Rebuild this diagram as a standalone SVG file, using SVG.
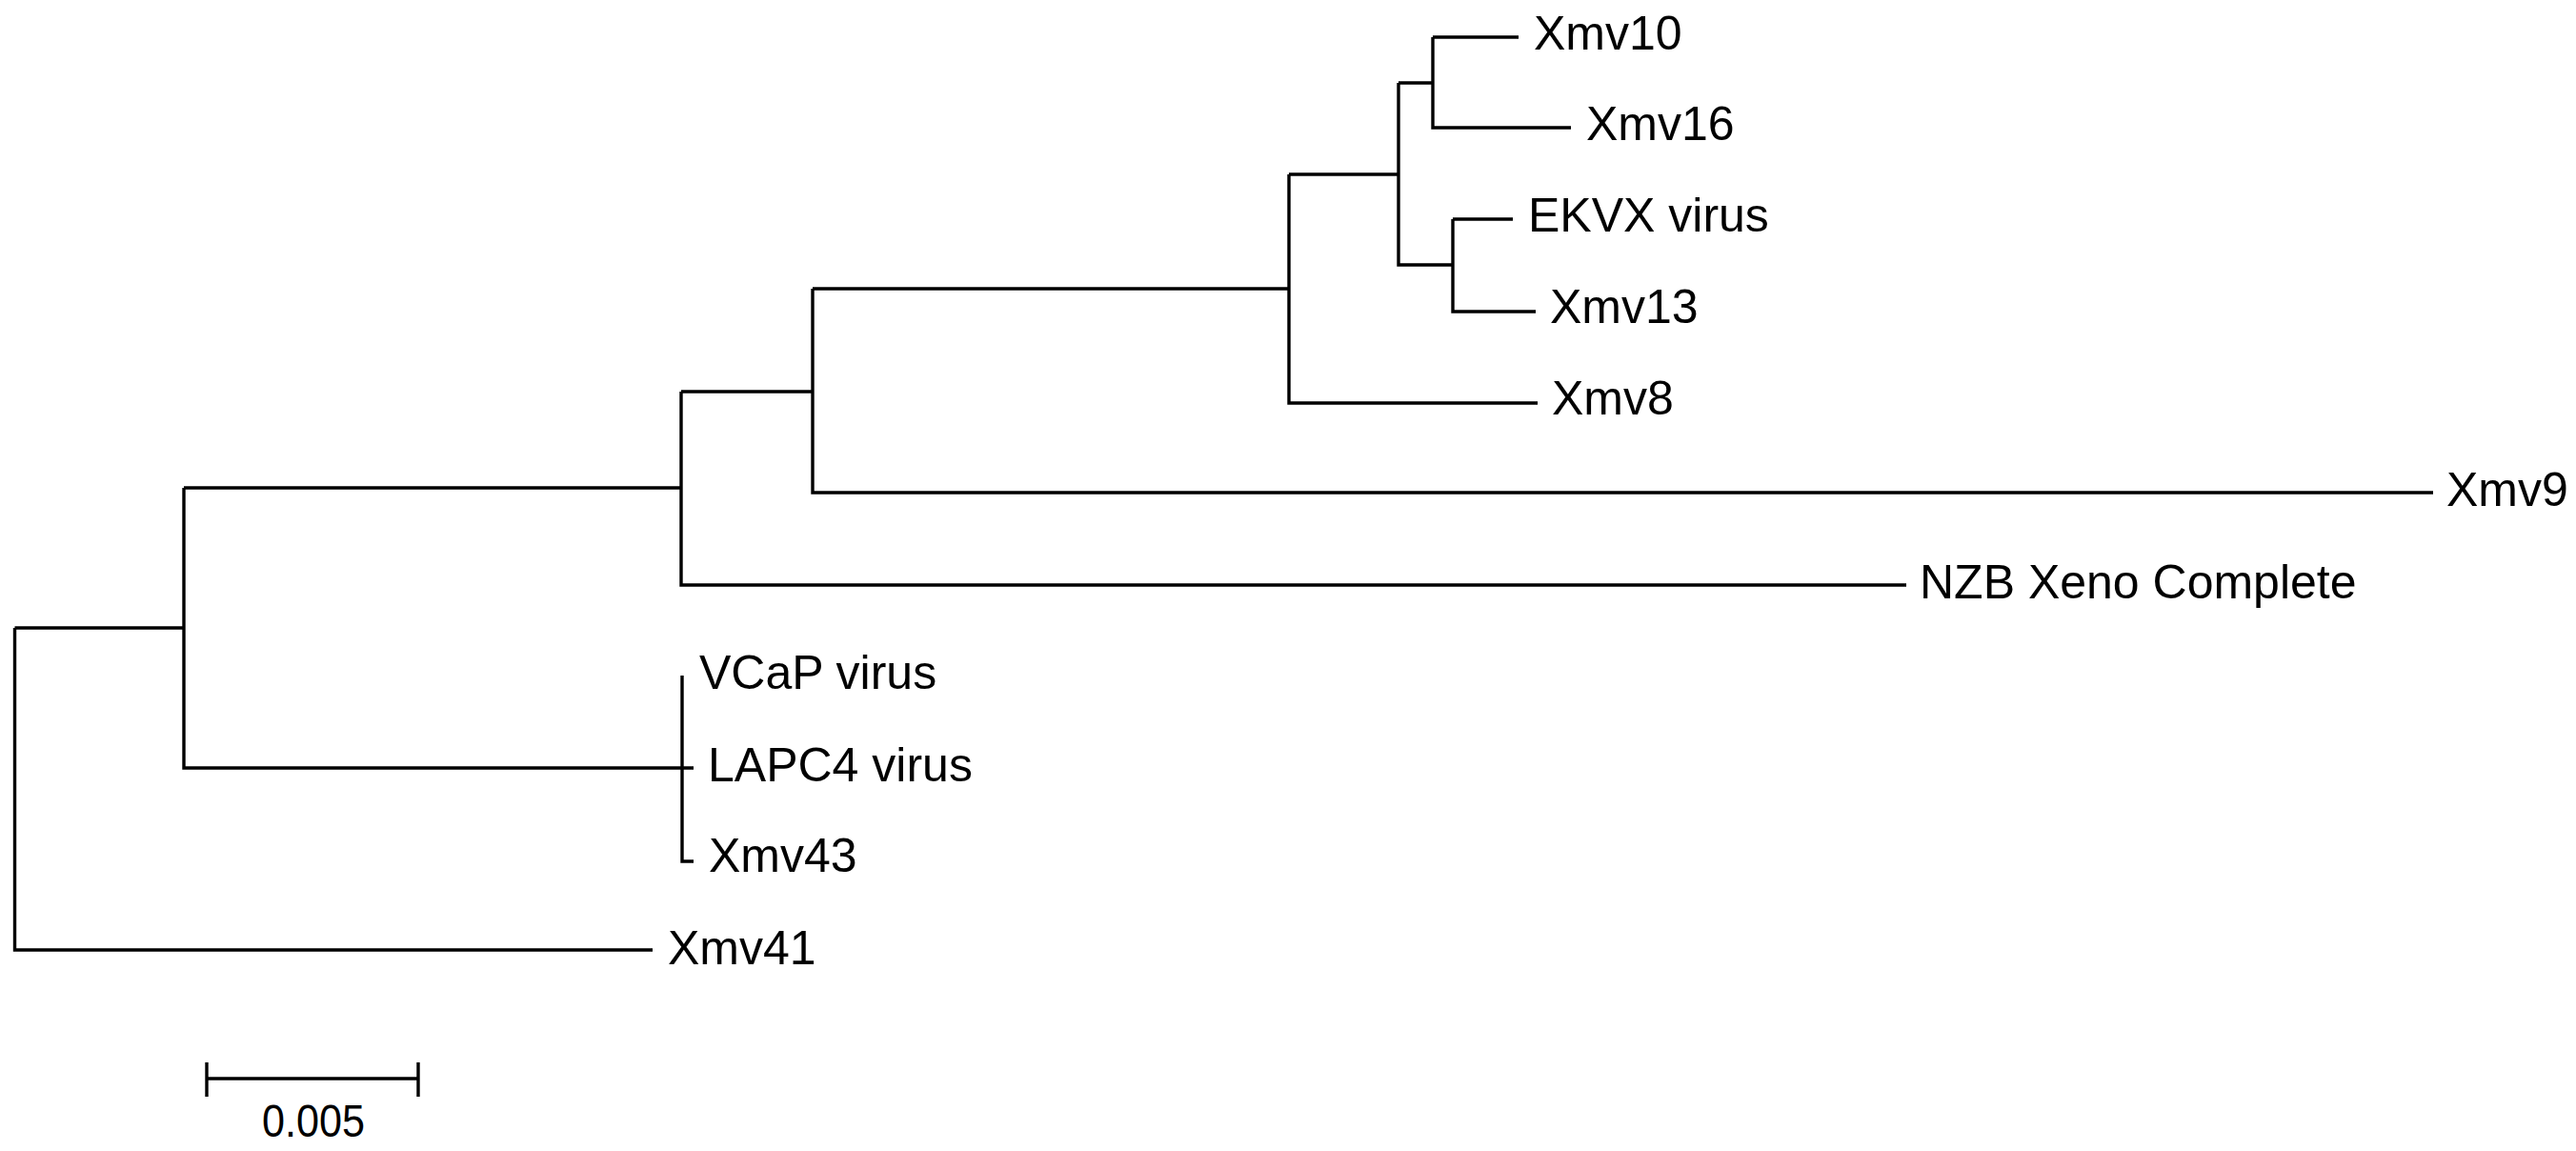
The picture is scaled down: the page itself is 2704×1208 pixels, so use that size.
<svg xmlns="http://www.w3.org/2000/svg" width="2704" height="1208" viewBox="0 0 2704 1208">
<style>
.br{fill:none;stroke:#000;stroke-width:3.4;stroke-linecap:butt;stroke-linejoin:miter}
.lb{font-family:"Liberation Sans",Arial,sans-serif;font-size:50px;fill:#000}
.sc{font-family:"Liberation Sans",Arial,sans-serif;font-size:48px;fill:#000}
</style>
<rect width="2704" height="1208" fill="#fff"/>
<g id="connectors" class="br">
<path d="M15.5,659 V997 H685"/>
<path d="M15.5,659 H193"/>
<path d="M193,512 V806 H728"/>
<path d="M193,512 H715"/>
<path d="M716,709 V904 H728"/>
<path d="M715,411 V614 H2001"/>
<path d="M715,411 H853"/>
<path d="M853,303 V517 H2554"/>
<path d="M853,303 H1353"/>
<path d="M1353,183 V423 H1614"/>
<path d="M1353,183 H1468"/>
<path d="M1468,87 V278 H1525"/>
<path d="M1468,87 H1504"/>
<path d="M1504,39 V134 H1649"/>
<path d="M1504,39 H1594"/>
<path d="M1525,230 V327 H1612"/>
<path d="M1525,230 H1588"/>
</g>
<g id="n-xmv10"><text class="lb" x="1610" y="52">Xmv10</text></g>
<g id="n-xmv16"><text class="lb" x="1665" y="147">Xmv16</text></g>
<g id="n-ekvx"><text class="lb" x="1604" y="243">EKVX virus</text></g>
<g id="n-xmv13"><text class="lb" x="1627" y="339">Xmv13</text></g>
<g id="n-xmv8"><text class="lb" x="1629" y="435">Xmv8</text></g>
<g id="n-xmv9"><text class="lb" x="2568" y="531">Xmv9</text></g>
<g id="n-nzb"><text class="lb" x="2015" y="628">NZB Xeno Complete</text></g>
<g id="n-vcap"><text class="lb" x="734" y="723">VCaP virus</text></g>
<g id="n-lapc4"><text class="lb" x="743" y="820">LAPC4 virus</text></g>
<g id="n-xmv43"><text class="lb" x="744" y="915">Xmv43</text></g>
<g id="n-xmv41"><text class="lb" x="701" y="1012">Xmv41</text></g>
<g id="scale-bar">
<path class="br" d="M217,1132 H439 M217,1115 V1151 M439,1115 V1151"/>
<text class="sc" x="275" y="1193" textLength="108" lengthAdjust="spacingAndGlyphs">0.005</text>
</g>
</svg>
